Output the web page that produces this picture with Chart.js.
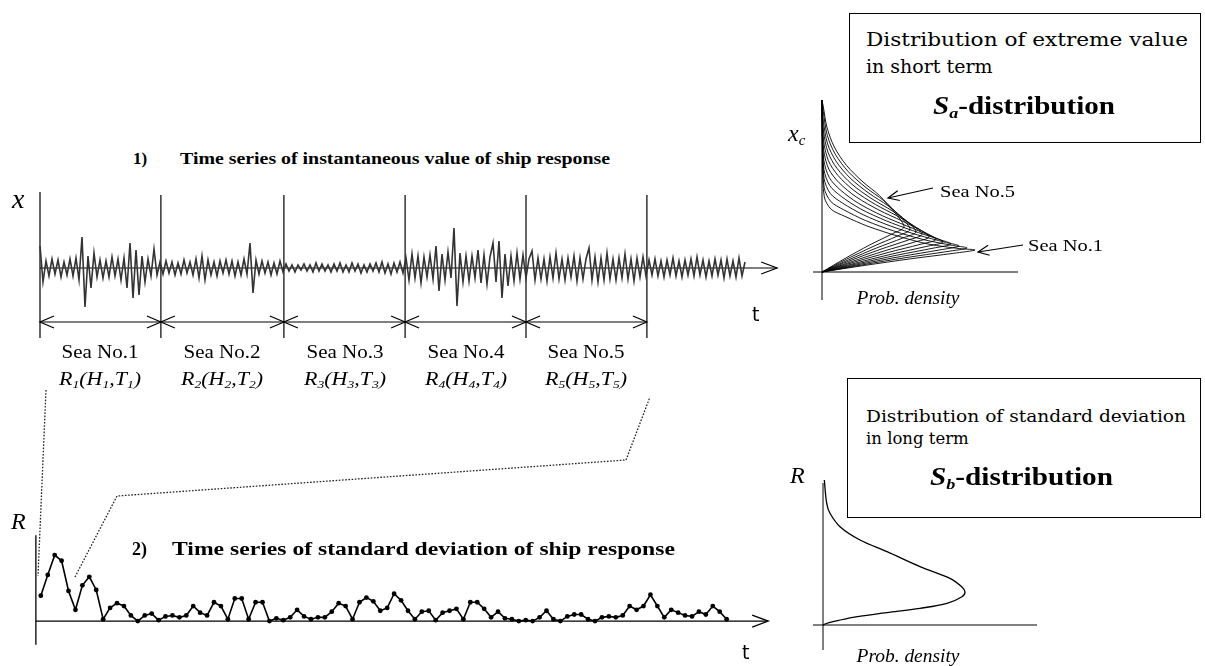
<!DOCTYPE html>
<html><head><meta charset="utf-8">
<script src="https://cdn.jsdelivr.net/npm/chart.js@4.4.0/dist/chart.umd.min.js"></script>
<style>
html,body{margin:0;padding:0;background:#fff;}
body{width:1205px;height:666px;position:relative;overflow:hidden;}
canvas{position:absolute;}
.t{position:absolute;white-space:nowrap;line-height:1;transform:translateY(-50%);transform-origin:0 50%;color:#000;}
.t.c{transform:translate(-50%,-50%);transform-origin:50% 50%;}
.tm{font-family:"Liberation Serif","Times New Roman",serif;}
.cs{font-family:"DejaVu Serif",serif;}
.sn{font-family:"DejaVu Sans",sans-serif;}
.b{font-weight:bold;}
.i{font-style:italic;}
sub{font-size:62%;vertical-align:-0.28em;line-height:0;}
.box{position:absolute;border:1.5px solid #000;box-sizing:border-box;}
svg{position:absolute;left:0;top:0;}
</style></head><body>
<div class="box" style="left:849px;top:13px;width:352px;height:130px"></div>
<div class="box" style="left:847px;top:378px;width:354px;height:140px"></div>
<svg width="1205" height="666">
  <polyline points="46,390 38,576" fill="none" stroke="#222" stroke-width="1.3" stroke-dasharray="1.6 1.6"/>
  <polyline points="75,577 117,496 626,460 650,397" fill="none" stroke="#222" stroke-width="1.3" stroke-dasharray="1.6 1.6"/>
</svg>
<canvas id="cNoise" width="770" height="160" style="left:20px;top:185px"></canvas>
<canvas id="cR" width="770" height="140" style="left:20px;top:520px"></canvas>
<canvas id="cSa" width="230" height="220" style="left:800px;top:90px"></canvas>
<canvas id="cSb" width="250" height="190" style="left:800px;top:470px"></canvas>
<script>
// ---------- DATA ----------
// 1) instantaneous value of ship response, one value per sample index
const noiseValues = [
 22,-14,7,-8,9,-6,8,-9,6,-7,
 9,-8,10,-12,31,-39,12,-20,15,-9,
 8,-10,7,-9,11,-8,9,-12,10,-20,
 25,-30,18,-27,12,-14,9,-8,19,-7,
 6,
 -6,7,-5,6,-7,5,-6,8,-5,6,
 -7,9,-10,12,-12,8,-7,6,-8,7,
 -5,8,-6,7,-8,6,-7,9,-6,25,
 -25,8,-6,7,-5,6,-7,5,-6,7,
 -4,
 4,-3,3,-4,3,-2,4,-3,3,-4,
 5,-3,4,-3,3,-4,4,-3,5,-4,
 3,-4,5,-3,4,-5,3,-4,4,-3,
 5,-4,6,-5,4,-6,5,-4,6,-5,
 10,-12,14,-10,12,-15,11,-9,13,-11,
 22,-23,14,-12,16,-10,40,-38,15,-14,
 12,-13,12,-10,18,-15,13,-16,11,25,
 -14,27,-30,14,-18,12,-13,15,-11,13,
 -10,9,17,-12,10,-11,9,-13,11,-10,
 15,-11,9,-12,10,-9,12,-13,10,-11,
 9,20,-12,11,-14,10,-12,15,-11,9,
 -12,10,-10,14,-11,9,-13,10,-9,11,
 -8,
 8,-7,9,-8,7,-9,8,-7,10,-8,
 7,-9,8,-7,9,-8,11,-7,8,-9,
 7,-8,9,-7,8,-10,9,-8,7,-9,
 10,-8,6
];
const seaBounds = [0, 40.3, 81.3, 121.7, 162, 202.3];
const seaNames = ['Sea No.1','Sea No.2','Sea No.3','Sea No.4','Sea No.5'];
const seaIdx = ['1','2','3','4','5'];
const noiseAxisEnd = 245.7;

// 2) standard deviation of ship response
const rValues = [
 27,49,70,64,32,12,38,47,33,2,
 14,19,16,6,0,6,8,1,5,6,
 4,6,16,9,6,20,16,2,24,24,
 2,20,20,0,3,1,4,12,5,2,
 4,4,10,19,16,2,20,25,21,11,
 14,29,22,11,2,10,11,1,9,11,
 13,2,20,20,13,4,10,3,2,0,
 1,0,4,11,2,0,5,7,7,2,
 0,4,5,4,6,16,12,16,28,16,
 4,12,9,6,5,10,7,16,10,2
];
const rAxisEnd = 105.0;

// Sa-distribution: [prob. density, x_c] for each curve (Sea No.1 ... Sea No.5)
const saCurves = [
 [[0,0],[42.8,6.6],[88.7,13.2],[131.6,18.7],[153,22],[137.7,23.4],[107.1,27.8],[76.5,35.7],[45.9,45.7],[23,55.6],[9.2,62.7],[2.3,75],[0.6,110],[0,172]],
 [[0,0],[40.6,7.2],[84.1,14.4],[124.7,20.4],[145,24],[130.5,26.6],[101.5,32.4],[72.5,40.8],[43.5,51.5],[21.8,62.2],[8.7,70.6],[2.2,84.2],[0.6,118],[0,172]],
 [[0,0],[38.4,7.8],[79.5,15.6],[117.8,22.1],[137,26],[123.3,29.7],[95.9,37],[68.5,46],[41.1,57.3],[20.6,68.9],[8.2,78.6],[2.1,93.4],[0.6,125],[0,172]],
 [[0,0],[36.1,8.4],[74.8,16.8],[110.9,23.8],[129,28],[116.1,32.9],[90.3,41.5],[64.5,51.1],[38.7,63],[19.4,75.5],[7.7,86.5],[1.9,102.6],[0.5,132],[0,172]],
 [[0,0],[33.9,9],[70.2,18],[104.1,25.5],[121,30],[108.9,36],[84.7,46.1],[60.5,56.2],[36.3,68.8],[18.2,82.2],[7.3,94.4],[1.8,111.8],[0.5,140],[0,172]],
 [[0,0],[31.9,9.8],[66.1,19.5],[98,27.6],[114,32.5],[102.6,39.7],[79.8,51.2],[57,61.9],[34.2,75.1],[17.1,89.3],[6.8,102.9],[1.7,121.5],[0.5,148],[0,172]],
 [[0,0],[30,10.5],[62.1,21],[92,29.8],[107,35],[96.3,43.4],[74.9,56.2],[53.5,67.5],[32.1,81.4],[16.1,96.4],[6.4,111.3],[1.6,131.2],[0.5,155],[0,172]],
 [[0,0],[28,11.3],[58,22.5],[86,31.9],[100,37.5],[90,47],[70,61.3],[50,73.1],[30,87.7],[15,103.6],[6,119.7],[1.5,140.9],[0.4,160],[0,172]],
 [[0,0],[26.3,12],[54.5,24],[80.8,34],[94,40],[84.6,50.7],[65.8,66.4],[47,78.7],[28.2,93.9],[14.1,110.7],[5.6,128.1],[1.4,150.6],[0.3,165],[0,172]],
 [[0,0],[24.6,12.8],[51,25.5],[75.7,36.1],[88,42.5],[79.2,54.3],[61.6,71.4],[44,84.4],[26.4,100.2],[13.2,117.9],[5.3,136.6],[1.3,160.3],[0,172]],
 [[0,0],[23,13.5],[47.6,27],[70.5,38.3],[82,45],[73.8,58],[57.4,76.5],[41,90],[24.6,106.5],[12.3,125],[4.9,145],[1.2,166],[0,172]]
];

// Sb-distribution: [prob. density, R]
const sbCurve = [[0,0],[2,1],[10,3.3],[30,7.7],[64,12.3],[97,16.7],[124,21.7],[139,28.3],[142,33],[139,38],[127,46.7],[97,58.3],[64,73.3],[37,85],[17,98.3],[7,111.7],[3.7,121.7],[1.3,145]];

// ---------- helpers ----------
function seg(ctx,x1,y1,x2,y2){ctx.beginPath();ctx.moveTo(x1,y1);ctx.lineTo(x2,y2);ctx.stroke();}
function head(ctx,x,y,ang,len,half){
  const c=Math.cos(ang),s=Math.sin(ang);
  const bx=x-len*c,by=y-len*s;
  ctx.beginPath();
  ctx.moveTo(bx-half*s,by+half*c);ctx.lineTo(x,y);ctx.lineTo(bx+half*s,by-half*c);ctx.stroke();
}
function baseOpts(xmin,xmax,ymin,ymax){
  return {responsive:false,animation:false,devicePixelRatio:1,maintainAspectRatio:false,
    layout:{padding:0},
    plugins:{legend:{display:false},tooltip:{enabled:false}},
    scales:{x:{type:'linear',min:xmin,max:xmax,display:false},y:{type:'linear',min:ymin,max:ymax,display:false}}};
}
function addText(html,x,y,cls,size,w,center,extra){
  const d=document.createElement('div');
  d.className='t '+cls+(center?' c':'');
  d.innerHTML=html;d.style.left=x+'px';d.style.top=y+'px';d.style.fontSize=size+'px';
  if(extra)Object.assign(d.style,extra);
  document.body.appendChild(d);
  if(w){const r=d.getBoundingClientRect().width;const k=w/r;
    d.style.transform=(center?'translate(-50%,-50%)':'translateY(-50%)')+' scaleX('+k.toFixed(4)+')';}
  return d;
}

// ---------- 1) instantaneous response ----------
const noiseChart = new Chart(document.getElementById('cNoise'),{
  type:'scatter',
  data:{datasets:[{data:noiseValues.map((v,k)=>({x:k,y:v})),showLine:true,borderColor:'#333',borderWidth:1.6,pointRadius:0,tension:0}]},
  options:baseOpts(-6.667,250,-77,83),
  plugins:[{id:'noiseDecor',beforeDatasetsDraw(ch){
    const ctx=ch.ctx,xs=ch.scales.x,ys=ch.scales.y;
    ctx.save();ctx.strokeStyle='#000';ctx.lineWidth=1.2;
    const y0=ys.getPixelForValue(0);
    seg(ctx,xs.getPixelForValue(0),y0,xs.getPixelForValue(noiseAxisEnd),y0);
    head(ctx,xs.getPixelForValue(noiseAxisEnd),y0,0,16,6);
    seaBounds.forEach((b,i)=>{const x=xs.getPixelForValue(b);
      seg(ctx,x,ys.getPixelForValue(i===0?76:73),x,ys.getPixelForValue(-70));});
    const ya=ys.getPixelForValue(-54);
    for(let i=0;i<seaBounds.length-1;i++){
      const a=xs.getPixelForValue(seaBounds[i]),b=xs.getPixelForValue(seaBounds[i+1]);
      seg(ctx,a,ya,b,ya);head(ctx,a,ya,Math.PI,14,6);head(ctx,b,ya,0,14,6);
    }
    ctx.restore();
  }}]
});

// ---------- 2) standard deviation ----------
new Chart(document.getElementById('cR'),{
  type:'scatter',
  data:{datasets:[{data:rValues.map((v,i)=>({x:i,y:v})),showLine:true,borderColor:'#000',borderWidth:1.6,
    pointRadius:2.4,pointBackgroundColor:'#000',pointBorderColor:'#000',pointBorderWidth:0,tension:0}]},
  options:baseOpts(-2.4286,107.571,-37,103),
  plugins:[{id:'rDecor',beforeDatasetsDraw(ch){
    const ctx=ch.ctx,xs=ch.scales.x,ys=ch.scales.y;
    ctx.save();ctx.strokeStyle='#000';ctx.lineWidth=1.3;
    const y0=ys.getPixelForValue(0),x0=xs.getPixelForValue(-0.714);
    seg(ctx,x0,ys.getPixelForValue(91),x0,ys.getPixelForValue(-25));
    seg(ctx,x0,y0,xs.getPixelForValue(rAxisEnd),y0);
    head(ctx,xs.getPixelForValue(rAxisEnd),y0,0,16,6);
    ctx.restore();
  }}]
});

// ---------- Sa-distribution ----------
new Chart(document.getElementById('cSa'),{
  type:'scatter',
  data:{datasets:saCurves.map(c=>({data:c.map(p=>({x:p[0],y:p[1]})),showLine:true,borderColor:'#000',borderWidth:0.9,pointRadius:0,tension:0.3}))},
  options:baseOpts(-22,208,-38,182),
  plugins:[{id:'saDecor',beforeDatasetsDraw(ch){
    const ctx=ch.ctx,xs=ch.scales.x,ys=ch.scales.y;
    ctx.save();ctx.strokeStyle='#000';ctx.lineWidth=1;
    seg(ctx,xs.getPixelForValue(0),ys.getPixelForValue(172),xs.getPixelForValue(0),ys.getPixelForValue(-28));
    seg(ctx,xs.getPixelForValue(-9),ys.getPixelForValue(0),xs.getPixelForValue(196),ys.getPixelForValue(0));
    ctx.restore();
  },afterDatasetsDraw(ch){
    const ctx=ch.ctx,xs=ch.scales.x,ys=ch.scales.y;
    ctx.save();ctx.strokeStyle='#000';ctx.lineWidth=1.2;
    const arr=(a,b)=>{const x1=xs.getPixelForValue(a[0]),y1=ys.getPixelForValue(a[1]),x2=xs.getPixelForValue(b[0]),y2=ys.getPixelForValue(b[1]);
      seg(ctx,x1,y1,x2,y2);head(ctx,x2,y2,Math.atan2(y2-y1,x2-x1),11,5);};
    arr([111,84],[66,74]);
    arr([201,27],[156,20]);
    ctx.restore();
  }}]
});

// ---------- Sb-distribution ----------
new Chart(document.getElementById('cSb'),{
  type:'scatter',
  data:{datasets:[{data:sbCurve.map(p=>({x:p[0],y:p[1]})),showLine:true,borderColor:'#000',borderWidth:1.3,pointRadius:0,tension:0.35}]},
  options:baseOpts(-23,227,-35,155),
  plugins:[{id:'sbDecor',beforeDatasetsDraw(ch){
    const ctx=ch.ctx,xs=ch.scales.x,ys=ch.scales.y;
    ctx.save();ctx.strokeStyle='#000';ctx.lineWidth=1;
    seg(ctx,xs.getPixelForValue(0),ys.getPixelForValue(142),xs.getPixelForValue(0),ys.getPixelForValue(-25));
    seg(ctx,xs.getPixelForValue(-10),ys.getPixelForValue(0),xs.getPixelForValue(214),ys.getPixelForValue(0));
    ctx.restore();
  }}]
});

// ---------- texts ----------
addText('1)',133,158,'tm b',17);
addText('Time series of instantaneous value of ship response',180,158,'tm b',17,430);
addText('x',12,199,'tm i',28);
addText('t',752,314,'sn',19);
{
  const xs=noiseChart.scales.x, left=20;
  for(let i=0;i<seaNames.length;i++){
    const cx=left+xs.getPixelForValue((seaBounds[i]+seaBounds[i+1])/2);
    const n=seaIdx[i];
    addText(seaNames[i],cx,352,'tm',18,77,true);
    addText('R<sub>'+n+'</sub>(H<sub>'+n+'</sub>,T<sub>'+n+'</sub>)',cx,379,'tm i',18,82,true);
  }
}
addText('2)',132,549,'tm b',18);
addText('Time series of standard deviation of ship response',172,549,'tm b',18,503);
addText('R',11,521,'tm i',24);
addText('t',742,652,'sn',19);

addText('Distribution of extreme value',866,39,'cs',19,322);
addText('in short term',866,66,'cs',19);
addText('<i>S</i><sub><i>a</i></sub>-distribution',933,105,'tm b',25,182);
addText('x<sub>c</sub>',788,133,'tm i',24);
addText('Sea No.5',940,192,'tm',16,75);
addText('Sea No.1',1028,246,'tm',16,75);
addText('Prob. density',908,298,'tm i',18,103,true);

addText('Distribution of standard deviation',866,417,'cs',16.5,320);
addText('in long term',866,439,'cs',16.5);
addText('<i>S</i><sub><i>b</i></sub>-distribution',930,476,'tm b',25,183);
addText('R',790,475,'tm i',24);
addText('Prob. density',908,656,'tm i',18,103,true);
</script>
</body></html>
